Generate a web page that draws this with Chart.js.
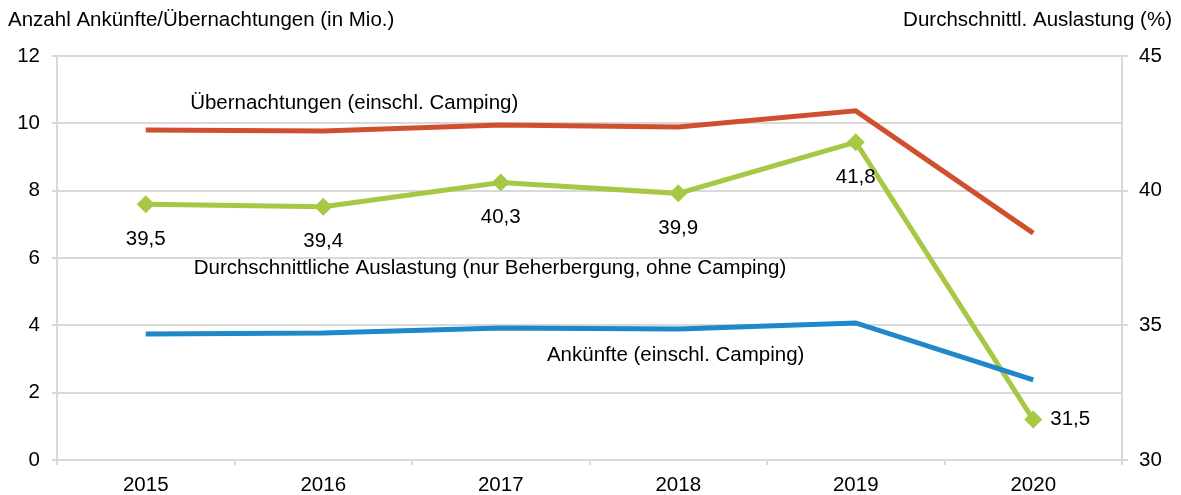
<!DOCTYPE html>
<html lang="de">
<head>
  <meta charset="UTF-8">
  <title>Ankünfte, Übernachtungen und Auslastung</title>
  <script src="https://cdn.jsdelivr.net/npm/chart.js"></script>
  <style>
    html, body { margin: 0; padding: 0; background: #fff; }
    #wrap { width: 1181px; height: 495px; position: relative; }
  </style>
</head>
<body>
  <div id="wrap"><canvas id="chart"></canvas></div>
  <script>
    // values
    const years = ['2015', '2016', '2017', '2018', '2019', '2020'];
    const uebernachtungen = [9.80, 9.77, 9.95, 9.89, 10.37, 6.74];
    const ankuenfte = [3.74, 3.77, 3.92, 3.89, 4.07, 2.38];
    const auslastung = [39.5, 39.4, 40.3, 39.9, 41.8, 31.5];

    const leftTitle = 'Anzahl Ankünfte/Übernachtungen (in Mio.)';
    const rightTitle = 'Durchschnittl. Auslastung (%)';

    // series names written inside the plot: [text, category index, left-axis value]
    const seriesNotes = [
      ['Übernachtungen (einschl. Camping)', 0.25, 10.6],
      ['Durchschnittliche Auslastung (nur Beherbergung, ohne Camping)', 0.27, 5.7],
      ['Ankünfte (einschl. Camping)', 2.26, 3.12]
    ];

    const FONT = '"Liberation Sans", Arial, sans-serif';
    const FS = 20.5;
    Chart.defaults.font.family = FONT;
    Chart.defaults.font.size = FS;
    Chart.defaults.color = '#000';

    const textPlugin = {
      id: 'texts',
      afterDraw(chart) {
        const ctx = chart.ctx;
        const x = chart.scales.x, y = chart.scales.y, y2 = chart.scales.y2;
        ctx.save();
        ctx.font = FS + 'px ' + FONT;
        ctx.fillStyle = '#000';
        ctx.textBaseline = 'middle';

        // axis titles
        ctx.textAlign = 'left';
        ctx.fillText(leftTitle, 8, 20);
        ctx.textAlign = 'right';
        ctx.fillText(rightTitle, chart.width - 9, 20);

        // series names
        ctx.textAlign = 'left';
        seriesNotes.forEach(([t, i, v]) => {
          ctx.fillText(t, x.getPixelForValue(i), y.getPixelForValue(v));
        });

        // data labels of the occupancy line
        auslastung.forEach((v, i) => {
          const px = x.getPixelForValue(i);
          const py = y2.getPixelForValue(v);
          const label = v.toFixed(1).replace('.', ',');
          if (i === auslastung.length - 1) {
            ctx.textAlign = 'left';
            ctx.fillText(label, px + 17, py);
          } else {
            ctx.textAlign = 'center';
            ctx.fillText(label, px, py + 35);
          }
        });
        ctx.restore();
      }
    };

    new Chart(document.getElementById('chart'), {
      type: 'line',
      data: {
        labels: years,
        datasets: [
          {
            label: 'Übernachtungen (einschl. Camping)',
            data: uebernachtungen,
            yAxisID: 'y',
            borderColor: '#d04f2f',
            borderWidth: 5,
            pointRadius: 0,
            tension: 0
          },
          {
            label: 'Ankünfte (einschl. Camping)',
            data: ankuenfte,
            yAxisID: 'y',
            borderColor: '#1e88c8',
            borderWidth: 5,
            pointRadius: 0,
            tension: 0
          },
          {
            label: 'Durchschnittliche Auslastung',
            data: auslastung,
            yAxisID: 'y2',
            borderColor: '#a7c844',
            backgroundColor: '#a7c844',
            borderWidth: 5,
            pointStyle: 'rectRot',
            pointRadius: 9,
            pointBorderWidth: 0,
            tension: 0
          }
        ]
      },
      options: {
        responsive: true,
        maintainAspectRatio: false,
        animation: false,
        layout: { padding: { top: 56, left: 0, right: 0, bottom: 0 } },
        plugins: { legend: { display: false }, tooltip: { enabled: false } },
        scales: {
          x: {
            offset: true,
            grid: { offset: true, drawOnChartArea: false, tickLength: 5, color: '#d9d9d9', lineWidth: 2 },
            border: { color: '#d9d9d9', width: 2 },
            ticks: { padding: 8 },
            afterFit(s) { s.height = 35; }
          },
          y: {
            position: 'left',
            min: 0, max: 12,
            ticks: { stepSize: 2, padding: 12 },
            grid: { color: '#d9d9d9', lineWidth: 2, tickLength: 5 },
            border: { color: '#d9d9d9', width: 2 },
            afterFit(s) { s.width = 57; }
          },
          y2: {
            position: 'right',
            min: 30, max: 45,
            ticks: { stepSize: 5, padding: 11 },
            grid: { drawOnChartArea: false, color: '#d9d9d9', lineWidth: 2, tickLength: 6 },
            border: { color: '#d9d9d9', width: 2 },
            afterFit(s) { s.width = 59; }
          }
        }
      },
      plugins: [textPlugin]
    });
  </script>
</body>
</html>
